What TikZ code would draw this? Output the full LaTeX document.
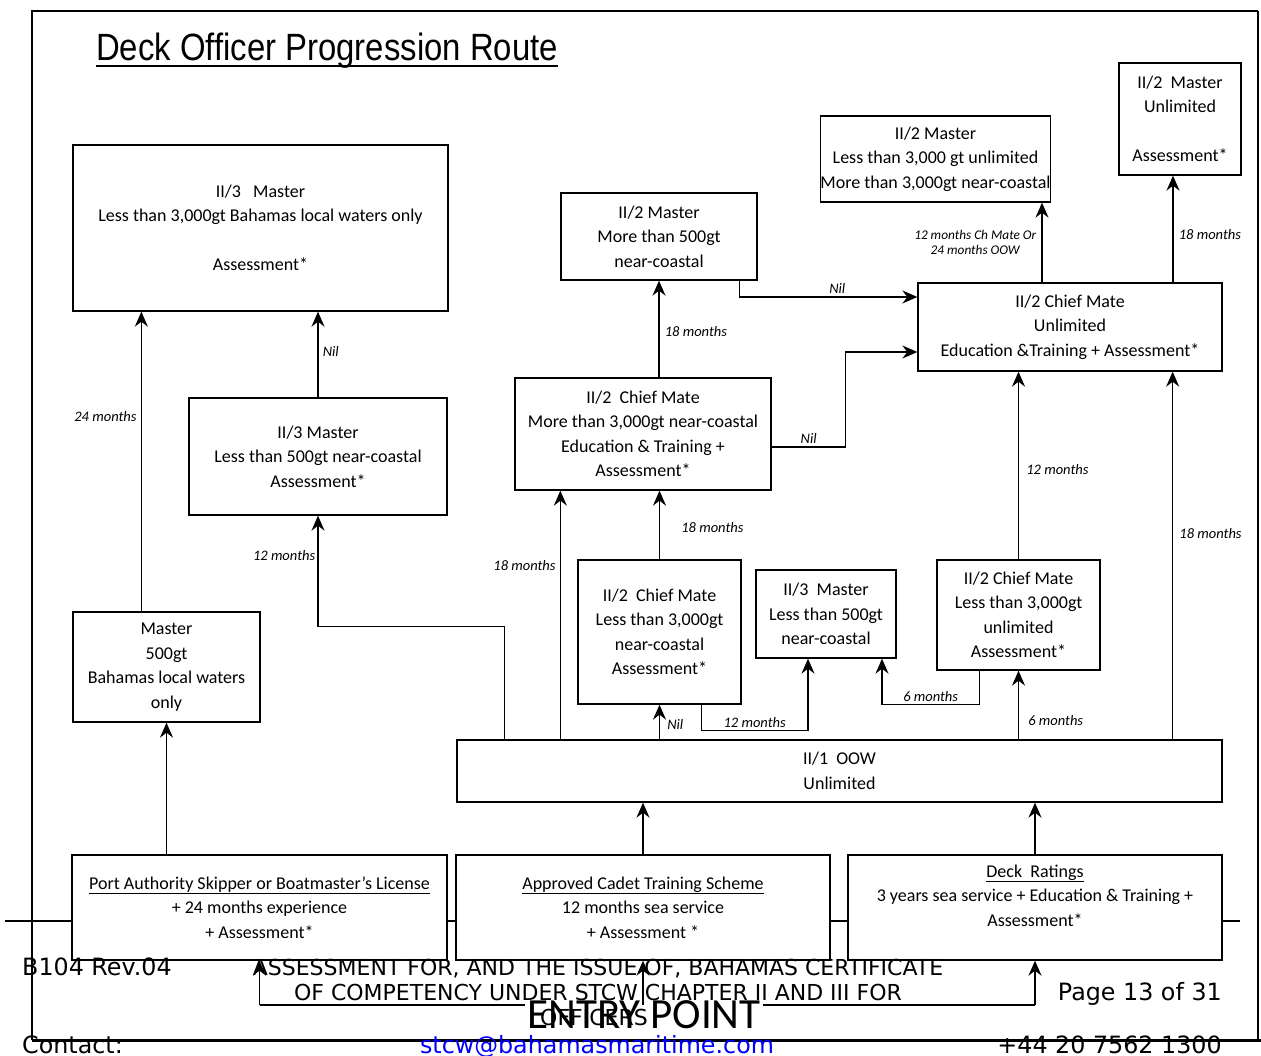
\documentclass[tikz,border=0pt]{standalone}
\usepackage{fontspec}
\setmainfont{Carlito}
\newfontfamily\titlefont{Liberation Sans}
\newfontfamily\footfont{DejaVu Sans}
\usetikzlibrary{arrows.meta}

\begin{document}
\begin{tikzpicture}[x=1pt,y=-1pt,
  box/.style={draw,fill=white,line width=1.3pt,align=center,inner sep=0pt,font=\fontsize{18}{24.5}\selectfont},
  arr/.style={-{Stealth[length=15pt,width=13pt,inset=5pt]},line width=1.6pt},
  lbl/.style={font=\itshape\fontsize{14.5}{17}\selectfont,inner sep=1pt},
  foot/.style={font=\footfont\fontsize{22}{25}\selectfont,inner sep=0pt},
  footl/.style={font=\footfont\fontsize{23.8}{26}\selectfont,inner sep=0pt}]
\useasboundingbox (0,0) rectangle (1261,1055);

\draw[line width=2.5pt] (32,1040) -- (32,11) -- (1258,11);
\draw[line width=1.2pt] (1258,11) -- (1258,1040);
\draw[line width=3pt] (32,1040) -- (1261,1040);
\draw[line width=2.5pt] (5,921) -- (1240,921);

\node[anchor=base west,inner sep=0pt] (title) at (96,60)
  {\scalebox{0.865}[1]{\titlefont\fontsize{38}{40}\selectfont Deck Officer Progression Route}};
\draw[line width=2.5pt] ([yshift=-6pt]title.base west) -- ([yshift=-6pt]title.base east);

\node[box,minimum width=375pt,minimum height=166pt] (ms3loc) at (260.5,228)
  {II/3\ \ \ Master\\ Less than 3,000gt Bahamas local waters only\\[24.5pt] Assessment*};
\node[box,minimum width=258pt,minimum height=117pt] (ms3nc) at (318,456.5)
  {II/3 Master\\ Less than 500gt near-coastal\\ Assessment*};
\node[box,minimum width=187pt,minimum height=110pt] (m500) at (166.5,667)
  {Master\\ 500gt\\ Bahamas local waters\\ only};
\node[box,minimum width=196pt,minimum height=87pt] (ms2m500) at (659,236.5)
  {II/2 Master\\ More than 500gt\\ near-coastal};
\node[box,minimum width=219pt,minimum height=86pt] (ms2lt3k) at (935.5,159)
  {II/2 Master\\ Less than 3,000 gt unlimited\\ More than 3,000gt near-coastal};
\node[box,minimum width=122pt,minimum height=112pt] (ms2unl) at (1180,119)
  {II/2\ \ Master\\ Unlimited\\[24.5pt] Assessment*};
\node[box,minimum width=304pt,minimum height=88pt] (cm2unl) at (1070,327)
  {II/2 Chief Mate\\ Unlimited\\ Education \&Training + Assessment*};
\node[box,minimum width=256pt,minimum height=112pt] (cm2nc) at (643,434)
  {II/2\ \ Chief Mate\\ More than 3,000gt near-coastal\\ Education \& Training +\\ Assessment*};
\node[box,minimum width=163pt,minimum height=144pt] (cm2lt3k) at (659.5,632)
  {II/2\ \ Chief Mate\\ Less than 3,000gt\\ near-coastal\\ Assessment*};
\node[box,minimum width=140pt,minimum height=88pt] (ms3lt500) at (826,614)
  {II/3\ \ Master\\ Less than 500gt\\ near-coastal};
\node[box,minimum width=163pt,minimum height=110pt] (cm2lt3kunl) at (1018.5,615)
  {II/2 Chief Mate\\ Less than 3,000gt\\ unlimited\\ Assessment*};
\node[box,minimum width=765pt,minimum height=62pt] (oow) at (839.5,771)
  {II/1\ \ OOW\\ Unlimited};
\node[box,minimum width=375pt,minimum height=105pt] (pask) at (259.5,907.5)
  {\underline{Port Authority Skipper or Boatmaster’s License}\\ + 24 months experience\\ + Assessment*};
\node[box,minimum width=374pt,minimum height=105pt] (cadet) at (643,907.5)
  {\underline{Approved Cadet Training Scheme}\\ 12 months sea service\\ + Assessment *};
\node[box,minimum width=374pt,minimum height=105pt] (ratings) at (1035,907.5)
  {\underline{Deck\ \ Ratings}\\ 3 years sea service + Education \& Training +\\ Assessment*\\ \mbox{}};

\coordinate (e) at (644,1005);
\draw[line width=1.6pt] (pask.south |- e) -- (ratings.south |- e);
\node[fill=white,inner sep=2pt,font=\fontsize{43}{43}\selectfont] (entry) at (644,1015) {ENTRY POINT};

\path[arr]
  ([xshift=69pt]m500.north west) edge node[lbl,left=3pt,pos=0.65] {24 months} ([xshift=69pt]m500.north west |- ms3loc.south)
  (ms3nc.north) edge node[lbl,right=3pt,pos=0.53] {Nil} (ms3nc.north |- ms3loc.south)
  (m500.south |- pask.north) edge (m500.south)
  ([xshift=104pt]oow.north west) edge node[lbl,left=3pt,pos=0.7] {18 months} ([xshift=104pt]oow.north west |- cm2nc.south)
  (cm2lt3k.north) edge node[lbl,right=20pt,pos=0.46] {18 months} (cm2lt3k.north |- cm2nc.south)
  (ms2m500.south |- cm2nc.north) edge node[lbl,right=4pt,pos=0.47] {18 months} (ms2m500.south)
  ([xshift=-28pt]cm2unl.north) edge node[lbl,left=4pt,midway,align=center,font=\itshape\fontsize{13.3}{15}\selectfont] {12 months Ch Mate Or\\ 24 months OOW} ([xshift=-28pt]cm2unl.north |- ms2lt3k.south)
  ([xshift=103pt]cm2unl.north) edge node[lbl,right=4pt,pos=0.45] {18 months} ([xshift=103pt]cm2unl.north |- ms2unl.south)
  (cm2lt3kunl.north) edge node[lbl,right=6pt,pos=0.48] {12 months} (cm2lt3kunl.north |- cm2unl.south)
  ([xshift=-50pt]oow.north east) edge node[lbl,right=5pt,pos=0.56] {18 months} ([xshift=-50pt]oow.north east |- cm2unl.south)
  (cm2lt3k.south |- oow.north) edge node[lbl,right=6pt,pos=0.44] {Nil} (cm2lt3k.south)
  (cm2lt3kunl.south |- oow.north) edge node[lbl,right=8pt,pos=0.27] {6 months} (cm2lt3kunl.south)
  (cadet.north) edge (cadet.north |- oow.south)
  (ratings.north) edge (ratings.north |- oow.south)
  (pask.south |- e) edge (pask.south)
  (cadet.south |- e) edge (cadet.south)
  (ratings.south |- e) edge (ratings.south);

\draw[arr] ([xshift=48pt]oow.north west) -- ++(0,-113) -| node[lbl,pos=0.82,left=1pt] {12 months} (ms3nc.south);
\draw[arr] ([xshift=179pt]ms2m500.south west) |- node[lbl,pos=0.775,above=2pt] {Nil} ([yshift=30pt]cm2unl.west);
\draw[arr] ([yshift=-13pt]cm2nc.east) -- node[lbl,above=2pt] {Nil} ++(74,0) |- ([yshift=-25pt]cm2unl.west);
\draw[arr] ([xshift=124pt]cm2lt3k.south west) -- ++(0,26) -| node[lbl,pos=0.25,above=1pt] {12 months} ([xshift=-18pt]ms3lt500.south);
\draw[arr] ([xshift=43pt]cm2lt3kunl.south west) -- ++(0,34) -| node[lbl,pos=0.25,above=1pt] {6 months} ([xshift=56pt]ms3lt500.south);

\node[footl,anchor=base west] (rev) at (22,975) {B104 Rev.04};
\node[foot,anchor=base] (ftla) at (598,975) {ASSESSMENT FOR, AND THE ISSUE OF, BAHAMAS CERTIFICATE};
\node[foot,anchor=base] (ftlb) at (598,1000) {OF COMPETENCY UNDER STCW CHAPTER II AND III FOR};
\node[foot,anchor=base] (ftlc) at (594,1025) {OFFICERS};
\node[footl,anchor=base east] (pg) at (1222,1000) {Page 13 of 31};
\node[footl,anchor=base west] (ct) at (22,1053) {Contact:};
\node[footl,anchor=base,text=blue] (mail) at (597,1053) {stcw@bahamasmaritime.com};
\node[footl,anchor=base east] (ph) at (1222,1053) {+44 20 7562 1300};
\end{tikzpicture}
\end{document}
